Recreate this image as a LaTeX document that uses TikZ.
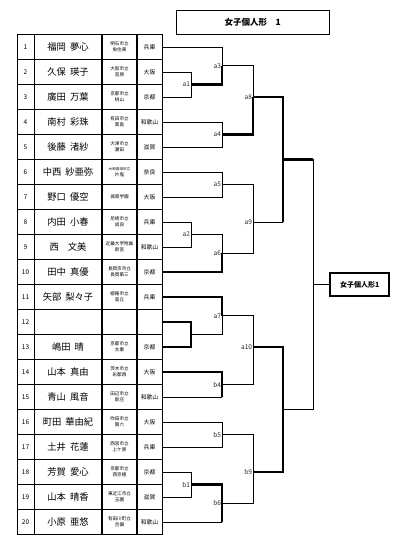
\documentclass[tikz,border=0pt]{standalone}
\usepackage{fontspec}
\setmainfont{Noto Sans CJK JP}
\usetikzlibrary{positioning, calc}

\newcommand{\nmgap}{\hspace{4pt}}

\begin{document}
\begin{tikzpicture}[x=1pt, y=-1pt,
  grid/.style={line width=0.8pt},
  gridthick/.style={line width=1.4pt},
  thinln/.style={line width=0.8pt},
  win/.style={line width=2.2pt},
  numtxt/.style={inner sep=0pt, font=\fontsize{6.5}{7}\selectfont},
  nametxt/.style={inner sep=0pt, font=\fontsize{9.3}{10}\selectfont},
  schtxt/.style={inner sep=0pt, align=center, font=\fontsize{4.6}{5.6}\selectfont},
  preftxt/.style={inner sep=0pt, font=\fontsize{5.8}{6.5}\selectfont},
  lbl/.style={left, inner sep=0.8pt, font=\fontsize{6.5}{7}\selectfont, text=black!85}]
  \useasboundingbox (0,0) rectangle (404,545);

  % title
  \node[draw, thinln, minimum width=153pt, minimum height=24.7pt,
    font=\fontsize{8.5}{9}\selectfont\bfseries] (title) at (252.6,22.3) {女子個人形　1};

  % entry table
  \foreach \i/\nm/\sc/\pf [evaluate=\i as \y using {47+25*(\i-1)}] in {
    1/{福岡\nmgap 夢心}/{明石市立\\魚住東}/兵庫,
    2/{久保\nmgap 瑛子}/{大阪市立\\宮原}/大阪,
    3/{廣田\nmgap 万葉}/{京都市立\\桃山}/京都,
    4/{南村\nmgap 彩珠}/{有田市立\\箕島}/和歌山,
    5/{後藤\nmgap 渚紗}/{大津市立\\瀬田}/滋賀,
    6/{中西\nmgap 紗亜弥}/{{\fontsize{3.6}{4.5}\selectfont 大和高田市立}\\片塩}/奈良,
    7/{野口\nmgap 優空}/{城南学園}/大阪,
    8/{内田\nmgap 小春}/{尼崎市立\\成良}/兵庫,
    9/{西\hspace{9pt}文美}/{近畿大学附属\\新宮}/和歌山,
    10/{田中\nmgap 真優}/{長岡京市立\\長岡第三}/京都,
    11/{矢部\nmgap 梨々子}/{姫路市立\\高丘}/兵庫,
    12/{}/{}/{},
    13/{嶋田\nmgap 晴}/{京都市立\\太秦}/京都,
    14/{山本\nmgap 真由}/{茨木市立\\彩都西}/大阪,
    15/{青山\nmgap 風音}/{田辺市立\\新庄}/和歌山,
    16/{町田\nmgap 華由紀}/{吹田市立\\第六}/大阪,
    17/{土井\nmgap 花蓮}/{西宮市立\\上ケ原}/兵庫,
    18/{芳賀\nmgap 愛心}/{京都市立\\西京極}/京都,
    19/{山本\nmgap 晴香}/{東近江市立\\玉園}/滋賀,
    20/{小原\nmgap 亜悠}/{有田川町立\\吉備}/和歌山} {
    \node[numtxt] (no\i) at (25.5,\y) {\i};
    \node[nametxt] (nm\i) at (68,\y) {\nm};
    \node[schtxt] (sc\i) at (119.5,\y) {\sc};
    \node[preftxt] (pf\i) at (149.5,\y) {\pf};
    \coordinate (e\i) at (162,\y);
  }
  \draw[grid] (17,34.5) rectangle (162,534.5);
  \foreach \k in {1,...,19}
    \draw[grid] (17,{34.5+25*\k}) -- (162,{34.5+25*\k});
  \draw[grid] (34,34.5) -- (34,534.5);
  \draw[gridthick] (102,34.5) -- (102,534.5);
  \draw[gridthick] (137,34.5) -- (137,534.5);

  % match points
  \coordinate (a1) at (191,84.5);
  \coordinate (a3) at (222,65.75);
  \coordinate (a4) at (222,134.5);
  \coordinate (a8) at (253,97);
  \coordinate (a5) at (222,184.5);
  \coordinate (a2) at (191,234.5);
  \coordinate (a6) at (222,253.25);
  \coordinate (a9) at (253,222);
  \coordinate (top) at (283,159.5);
  \coordinate (bye) at (191,334.5);
  \coordinate (a7) at (222,315.75);
  \coordinate (b4) at (222,384.5);
  \coordinate (a10) at (253,347);
  \coordinate (b5) at (222,434.5);
  \coordinate (b1) at (191,484.5);
  \coordinate (b6) at (222,503.25);
  \coordinate (b9) at (253,472);
  \coordinate (bot) at (283,409.5);
  \coordinate (fin) at (313,284.5);

  % upper half
  \draw[thinln] (e1) -| (a3);
  \draw[thinln] (e2) -| (a1);
  \draw[thinln] (e3) -| (a1);
  \draw[win] (a1) -| (a3);
  \draw[thinln] (e4) -| (a4);
  \draw[thinln] (e5) -| (a4);
  \draw[thinln] (a3) -| (a8);
  \draw[win] (a4) -| (a8);
  \draw[thinln] (e6) -| (a5);
  \draw[thinln] (e7) -| (a5);
  \draw[thinln] (e8) -| (a2);
  \draw[thinln] (e9) -| (a2);
  \draw[thinln] (a2) -| (a6);
  \draw[win] (e10) -| (a6);
  \draw[thinln] (a5) -| (a9);
  \draw[thinln] (a6) -| (a9);
  \draw[win] (a8) -| (top);
  \draw[thinln] (a9) -- (a9 -| top);
  \draw[win] (a9 -| top) -- (top);

  % lower half
  \draw[win] (e11) -| (a7);
  \draw[win] (e12) -| (bye);
  \draw[win] (e13) -| (bye);
  \draw[thinln] (bye) -| (a7);
  \draw[win] (e14) -| (b4);
  \draw[thinln] (e15) -- (e15 -| b4);
  \draw[win] (e15 -| b4) -- (b4);
  \draw[thinln] (a7) -| (a10);
  \draw[thinln] (b4) -| (a10);
  \draw[thinln] (e16) -| (b5);
  \draw[thinln] (e17) -| (b5);
  \draw[thinln] (e18) -| (b1);
  \draw[thinln] (e19) -| (b1);
  \draw[win] (b1) -| (b6);
  \draw[thinln] (e20) -- (e20 -| b6);
  \draw[win] (e20 -| b6) -- (b6);
  \draw[thinln] (b5) -| (b9);
  \draw[thinln] (b6) -| (b9);
  \draw[win] (a10) -| (bot);
  \draw[win] (b9) -| (bot);

  % final
  \draw[win] (top) -- (top -| fin);
  \draw[thinln] (top -| fin) -- (fin);
  \draw[thinln] (bot) -| (fin);
  \node[draw, line width=2pt, minimum width=59pt, minimum height=23pt,
    font=\fontsize{7}{8}\selectfont\bfseries] (champ) at (359.7,284.5) {女子個人形1};
  \draw[thinln] (fin) -- (champ);

  % match labels
  \foreach \m in {a1,a2,a3,a4,a5,a6,a7,a8,a9,a10,b1,b4,b5,b6,b9}
    \node[lbl] at (\m) {\m};
\end{tikzpicture}
\end{document}
